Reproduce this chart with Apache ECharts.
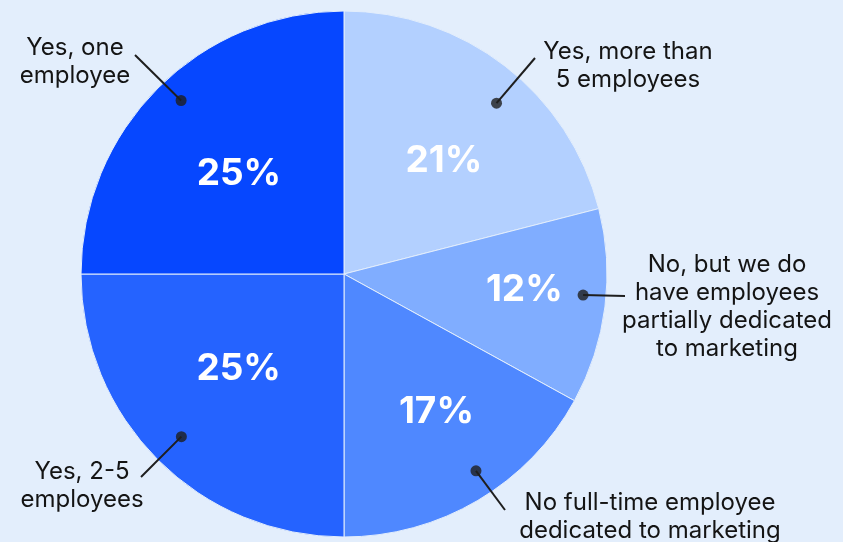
<!DOCTYPE html>
<html>
<head>
<meta charset="utf-8">
<script src="https://cdn.jsdelivr.net/npm/echarts@6/dist/echarts.min.js"></script>
<style>
  html, body { margin: 0; padding: 0; background: #e3eefc; }
  #chart { width: 843px; height: 542px; }
</style>
</head>
<body>
<div id="chart"></div>
<script>
// Survey answers, clockwise from 12 o'clock
const categories = [
  'Yes, more than\n5 employees',
  'No, but we do\nhave employees\npartially dedicated\nto marketing',
  'No full-time employee\ndedicated to marketing',
  'Yes, 2-5\nemployees',
  'Yes, one\nemployee'
];
const shares = [21, 12, 17, 25, 25];
const sliceColors = ['#b3d0ff', '#80adff', '#4f88ff', '#2563ff', '#0647ff'];

// Layout
const CX = 344, CY = 274, R = 263;
const pctRadius = [151, 181, 166, 142, 145];          // where the % labels sit
const pctNudge = [1.0, -0.6, -0.9, 0.8, -0.4];        // % label shift along the circle, in %
const anchorRadius = [229, 240, 237, 230, 238];       // callout dot distance from centre
const anchorNudge = [1.1, -0.6, -0.9, 0, 0.5];        // dot shift along the circle, in %
const calloutText = [[628, 66], [727, 307], [650, 517], [82, 486], [75, 62]];
const calloutEnd = [[535, 58], [625, 296], [505, 510], [141, 477], [135, 55]];

const total = shares.reduce((a, b) => a + b, 0);
const midPct = [];
let acc = 0;
shares.forEach(v => { midPct.push((acc + v / 2) / total * 100); acc += v; });

function polarPoint(r, pct) {
  const a = pct / 100 * Math.PI * 2;
  return [CX + r * Math.sin(a), CY - r * Math.cos(a)];
}
const anchorPct = midPct.map((m, i) => m + anchorNudge[i]);

const FONT = 'Inter, "Open Sans", sans-serif';

const chart = echarts.init(document.getElementById('chart'), null, { renderer: 'canvas' });
chart.setOption({
  backgroundColor: '#e3eefc',
  animation: false,
  polar: { center: [CX, CY], radius: R },
  angleAxis: { type: 'value', min: 0, max: 100, startAngle: 90, clockwise: true, show: false },
  radiusAxis: { type: 'value', min: 0, max: R, show: false },
  series: [
    {
      type: 'pie',
      z: 2,
      center: [CX, CY],
      radius: [0, R],
      startAngle: 90,
      clockwise: true,
      avoidLabelOverlap: false,
      silent: true,
      itemStyle: { borderColor: '#e3eefc', borderWidth: 1 },
      data: shares.map((v, i) => ({ value: v, name: categories[i], itemStyle: { color: sliceColors[i] } })),
      label: {
        show: true,
        position: 'inner',
        formatter: p => p.value + '%',
        color: '#ffffff',
        fontFamily: FONT,
        fontWeight: 'bold',
        fontSize: 37
      },
      labelLine: { show: false },
      labelLayout: p => {
        const i = p.dataIndex;
        const pt = polarPoint(pctRadius[i], midPct[i] + pctNudge[i]);
        return { x: pt[0], y: pt[1], align: 'center', verticalAlign: 'middle' };
      }
    },
    {
      // callout texts and leader lines
      type: 'pie',
      z: 4,
      center: [CX, CY],
      radius: [0, R],
      startAngle: 90,
      clockwise: true,
      avoidLabelOverlap: false,
      silent: true,
      itemStyle: { color: 'rgba(0,0,0,0)' },
      data: shares.map((v, i) => ({ value: v, name: categories[i] })),
      label: {
        show: true,
        position: 'outside',
        formatter: p => p.name,
        color: '#141414',
        fontFamily: FONT,
        fontSize: 24,
        lineHeight: 28,
        align: 'center'
      },
      labelLine: { show: true, length: 10, length2: 10, lineStyle: { color: '#1e1e1e', width: 2 } },
      labelLayout: p => {
        const i = p.dataIndex;
        const start = polarPoint(anchorRadius[i], anchorPct[i]);
        const end = calloutEnd[i];
        return {
          x: calloutText[i][0], y: calloutText[i][1],
          align: 'center', verticalAlign: 'middle',
          labelLinePoints: [start, end, end]
        };
      }
    },
    {
      // callout dots
      type: 'scatter',
      z: 5,
      coordinateSystem: 'polar',
      symbol: 'circle',
      symbolSize: 11,
      silent: true,
      itemStyle: { color: '#1e1e1e' },
      data: anchorPct.map((p, i) => [anchorRadius[i], p])
    }
  ]
});
</script>
</body>
</html>
